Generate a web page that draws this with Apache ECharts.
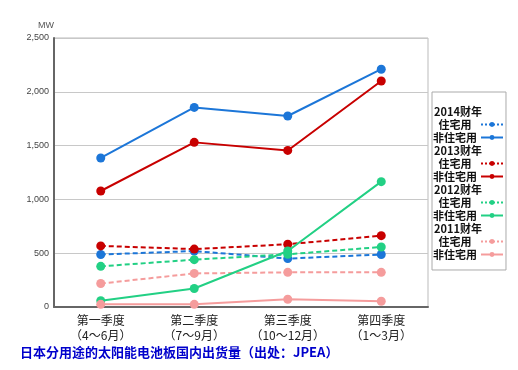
<!DOCTYPE html>
<html><head><meta charset="utf-8">
<script src="https://cdn.jsdelivr.net/npm/echarts@6/dist/echarts.min.js"></script>
<style>html,body{margin:0;padding:0;background:#fff}#c{width:518px;height:370px}</style>
</head><body><div id="c"></div>
<script>
var categories = ['第一季度\n（4～6月）', '第二季度\n（7～9月）', '第三季度\n（10～12月）', '第四季度\n（1～3月）'];
var yTicks = [0, 500, 1000, 1500, 2000, 2500];
var fy2014Res = [488, 520, 450, 488];
var fy2014NonRes = [1385, 1855, 1775, 2210];
var fy2013Res = [568, 538, 583, 663];
var fy2013NonRes = [1078, 1530, 1455, 2100];
var fy2012Res = [378, 440, 490, 558];
var fy2012NonRes = [58, 172, 520, 1165];
var fy2011Res = [218, 312, 322, 322];
var fy2011NonRes = [25, 25, 72, 53];
var years = ['2014财年', '2013财年', '2012财年', '2011财年'];
var resLabel = '住宅用', nonResLabel = '非住宅用';
var title = '日本分用途的太阳能电池板国内出货量（出处：JPEA）';

var colors = ['#1c76d8', '#c80000', '#22d084', '#f59c9c'];
var resData = [fy2014Res, fy2013Res, fy2012Res, fy2011Res];
var nonResData = [fy2014NonRes, fy2013NonRes, fy2012NonRes, fy2011NonRes];

var series = [];
var legendData = [];
var nameMap = {};
years.forEach(function (y, i) {
  var hName = y;
  var rName = y + ' ' + resLabel;
  var nName = y + ' ' + nonResLabel;
  nameMap[hName] = '{h|' + y + '}';
  nameMap[rName] = '{t|' + resLabel + '}';
  nameMap[nName] = '{t|' + nonResLabel + '}';
  series.push({ name: hName, type: 'line', data: [], silent: true });
  series.push({
    name: rName, type: 'line', data: resData[i], symbol: 'circle', symbolSize: 9,
    itemStyle: { color: colors[i] },
    lineStyle: { color: colors[i], width: 2, type: [5, 3] }, z: 2
  });
  series.push({
    name: nName, type: 'line', data: nonResData[i], symbol: 'circle', symbolSize: 9,
    itemStyle: { color: colors[i] },
    lineStyle: { color: colors[i], width: 2 }, z: 3
  });
  legendData.push({ name: hName, icon: 'none' });
  legendData.push({ name: rName, lineStyle: { type: [2, 2] } });
  legendData.push({ name: nName });
});

var chart = echarts.init(document.getElementById('c'));
chart.setOption({
  animation: false,
  grid: { left: 54, right: 90, top: 38, bottom: 63, show: true, borderColor: '#bbbbbb', borderWidth: 1 },
  xAxis: {
    type: 'category', data: categories, boundaryGap: true,
    axisLine: { lineStyle: { color: '#666', width: 2 } },
    axisTick: { show: false },
    axisLabel: { interval: 0, color: '#222', fontSize: 12, lineHeight: 15, margin: 6, fontFamily: 'Noto Sans CJK SC' }
  },
  yAxis: {
    type: 'value', min: yTicks[0], max: yTicks[yTicks.length - 1], interval: 500,
    name: 'MW', nameLocation: 'end', nameGap: 8,
    nameTextStyle: { color: '#555', fontSize: 9, align: 'right', fontFamily: 'Liberation Sans' },
    axisLine: { show: true, lineStyle: { color: '#666', width: 2 } },
    axisTick: { show: false },
    splitLine: { lineStyle: { color: '#c8c8c8', width: 1 } },
    axisLabel: {
      color: '#444', fontSize: 9, margin: 5, fontFamily: 'Liberation Sans',
      formatter: function (v) { return v.toLocaleString('en-US'); }
    }
  },
  legend: {
    orient: 'vertical', left: 432, top: 92,
    align: 'right', data: legendData,
    itemWidth: 22, itemHeight: 6, itemGap: 2,
    padding: [14, 2, 10, 1],
    borderColor: '#aaaaaa', borderWidth: 1,
    selectedMode: false,
    formatter: function (n) { return nameMap[n]; },
    textStyle: {
      rich: {
        h: { fontSize: 11, fontWeight: 'bold', color: '#111', width: 42, align: 'left', lineHeight: 12, fontFamily: 'Noto Sans CJK SC' },
        t: { fontSize: 11, fontWeight: 'bold', color: '#111', width: 42, align: 'center', lineHeight: 12, fontFamily: 'Noto Sans CJK SC' }
      }
    }
  },
  graphic: [{
    type: 'text', left: 20, top: 346,
    style: { text: title, fill: '#0000cc', font: 'bold 13px "Noto Sans CJK SC"' }
  }],
  series: series
});
</script></body></html>
